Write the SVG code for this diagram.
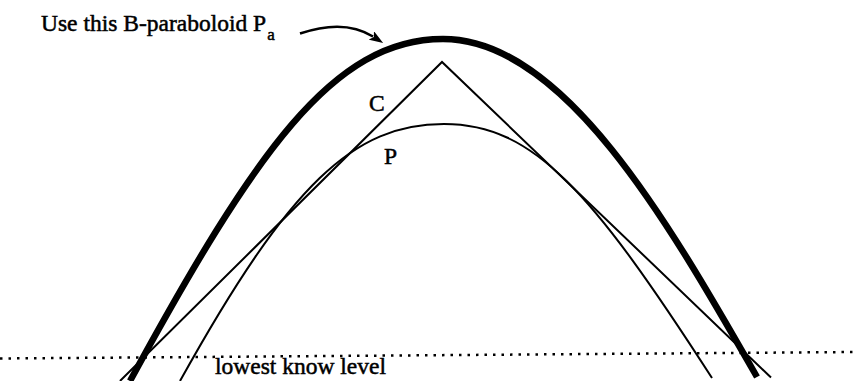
<svg xmlns="http://www.w3.org/2000/svg" width="856" height="381" viewBox="0 0 856 381">
  <style>
    .lbl { font-family: "Liberation Serif", "Times New Roman", serif; font-size: 23.5px; fill: #000; stroke: #000; stroke-width: 0.5px; }
    .thin { fill: none; stroke: #000; stroke-width: 2; stroke-linejoin: miter; }
    .thick { fill: none; stroke: #000; stroke-width: 6.5; }
    .dots { fill: none; stroke: #000; stroke-width: 2.5; stroke-dasharray: 2.5 6; }
  </style>
  <defs>
    <marker id="ah" markerUnits="userSpaceOnUse" viewBox="0 0 14 10" refX="2" refY="5" markerWidth="14" markerHeight="10" orient="auto">
      <path d="M0,0 L14,5 L0,10 L3,5 z" fill="#000"/>
    </marker>
  </defs>
  <rect width="856" height="381" fill="#fff"/>

  <g id="lowest-level">
    <path class="dots" d="M0,358.5 L856,352"/>
    <text class="lbl" x="215" y="373.5">lowest know level</text>
  </g>

  <g id="paraboloid-Pa">
    <path class="thick" d="M130,381 C255,152 333,39 443,39 C563,39 667,219.5 757,377"/>
  </g>

  <g id="curve-C">
    <path class="thin" d="M120,381 L442,62 L771,377.5"/>
    <text class="lbl" x="369" y="110.5">C</text>
  </g>

  <g id="curve-P">
    <path class="thin" d="M180,381 C290,183 354,124 444,124 C534,124 592,192 712,378"/>
    <text class="lbl" x="384" y="163.5">P</text>
  </g>

  <g id="label-Pa">
    <text class="lbl" x="41" y="30.5">Use this B-paraboloid P<tspan font-size="17" dy="9.5" dx="1">a</tspan></text>
  </g>

  <g id="connectors">
    <path d="M300,33.5 C322,26 350,22 373,36.5" fill="none" stroke="#000" stroke-width="2.5" marker-end="url(#ah)"/>
  </g>
</svg>
